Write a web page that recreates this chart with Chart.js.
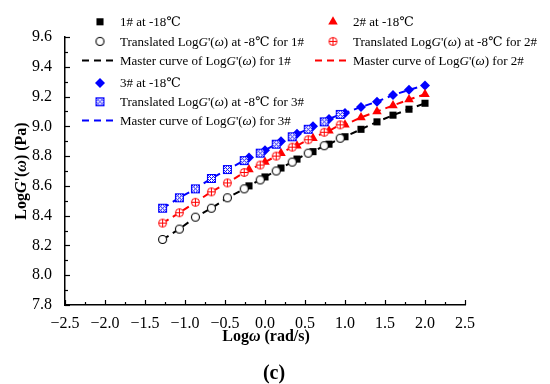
<!DOCTYPE html>
<html>
<head>
<meta charset="utf-8">
<script src="https://cdn.jsdelivr.net/npm/chart.js@4.4.0/dist/chart.umd.min.js"></script>
<style>
html,body{margin:0;padding:0;background:#fff;}
#wrap{width:550px;height:384px;position:relative;}
</style>
</head>
<body>
<div id="wrap"><canvas id="c" width="550" height="384"></canvas></div>
<script>
// ---- data ----
const xTranslated = [-1.28,-1.07,-0.87,-0.67,-0.47,-0.26,-0.06,0.14,0.34,0.54,0.74,0.94];
const xCold = [-0.2,0.0,0.2,0.4,0.6,0.8,1.0,1.2,1.4,1.6,1.8,2.0];
const s1Cold = [8.60,8.66,8.72,8.78,8.83,8.88,8.93,8.98,9.03,9.075,9.115,9.155];
const s1Trans = [8.24,8.31,8.39,8.45,8.52,8.58,8.64,8.70,8.76,8.82,8.87,8.92];
const s2Cold = [8.71,8.76,8.82,8.87,8.92,8.97,9.01,9.06,9.10,9.14,9.18,9.215];
const s2Trans = [8.35,8.42,8.49,8.56,8.62,8.69,8.74,8.80,8.86,8.91,8.96,9.01];
const s3Cold = [8.79,8.84,8.90,8.95,9.00,9.05,9.09,9.13,9.165,9.21,9.245,9.275];
const s3Trans = [8.45,8.52,8.58,8.65,8.71,8.77,8.82,8.88,8.93,8.98,9.03,9.08];
const xTickMin = -2.5, xTickMax = 2.5, xStep = 0.5;
const yTickMin = 7.8, yTickMax = 9.6, yStep = 0.2;

const BLACK = '#000000', RED = '#ff0000', BLUE = '#0000ff';
const SERIF = '"Liberation Serif", "DejaVu Serif", serif';

function pts(xs, ys){ return xs.map((x,i)=>({x:x, y:ys[i]})); }
function merged(xa, ya, xb, yb){
  return pts(xa, ya).concat(pts(xb, yb)).sort((a,b)=>a.x-b.x);
}

// custom marker images
function makeCirclePlus(color){
  const c = document.createElement('canvas'); c.width = 11; c.height = 11;
  const g = c.getContext('2d');
  g.fillStyle = '#fff'; g.strokeStyle = color; g.lineWidth = 1;
  g.beginPath(); g.arc(5.5,5.5,4,0,Math.PI*2); g.fill(); g.stroke();
  g.beginPath(); g.moveTo(1.5,5.5); g.lineTo(9.5,5.5); g.moveTo(5.5,1.5); g.lineTo(5.5,9.5); g.stroke();
  return c;
}
function makeHatchSquare(color){
  const c = document.createElement('canvas'); c.width = 11; c.height = 11;
  const g = c.getContext('2d');
  g.fillStyle = '#fff'; g.fillRect(1.5,1.5,8,8);
  g.strokeStyle = color; g.lineWidth = 1;
  g.strokeRect(1.5,1.5,8,8);
  g.beginPath();
  g.moveTo(1.5,1.5); g.lineTo(9.5,9.5); g.moveTo(9.5,1.5); g.lineTo(1.5,9.5);
  g.moveTo(1.5,5.5); g.lineTo(5.5,1.5); g.moveTo(5.5,9.5); g.lineTo(9.5,5.5);
  g.moveTo(1.5,5.5); g.lineTo(5.5,9.5); g.moveTo(5.5,1.5); g.lineTo(9.5,5.5);
  g.stroke();
  return c;
}
function makeOpenCircle(color){
  const c = document.createElement('canvas'); c.width = 11; c.height = 11;
  const g = c.getContext('2d');
  g.fillStyle = '#fff'; g.strokeStyle = color; g.lineWidth = 1.1;
  g.beginPath(); g.arc(5.5,5.5,4,0,Math.PI*2); g.fill(); g.stroke();
  return c;
}
const imgCircle = makeOpenCircle(BLACK);
const imgCirclePlus = makeCirclePlus(RED);
const imgHatch = makeHatchSquare(BLUE);

const datasets = [
  // master curves (dashed)
  {label:'Master curve of LogG\'(ω) for 1#', data: merged(xTranslated,s1Trans,xCold,s1Cold), showLine:true, borderColor:BLACK, borderWidth:2, borderDash:[7,5], pointRadius:0, order:5},
  {label:'Master curve of LogG\'(ω) for 2#', data: merged(xTranslated,s2Trans,xCold,s2Cold), showLine:true, borderColor:RED, borderWidth:2, borderDash:[7,5], pointRadius:0, order:5},
  {label:'Master curve of LogG\'(ω) for 3#', data: merged(xTranslated,s3Trans,xCold,s3Cold), showLine:true, borderColor:BLUE, borderWidth:2, borderDash:[7,5], pointRadius:0, order:5},
  // -18 C data
  {label:'1# at -18℃', data: pts(xCold,s1Cold), pointStyle:'rect', pointRadius:5, backgroundColor:BLACK, borderColor:BLACK, borderWidth:0, order:3},
  {label:'2# at -18℃', data: pts(xCold,s2Cold), pointStyle:'triangle', pointRadius:5.5, backgroundColor:RED, borderColor:RED, borderWidth:0, order:3},
  {label:'3# at -18℃', data: pts(xCold,s3Cold), pointStyle:'rectRot', pointRadius:5, backgroundColor:BLUE, borderColor:BLUE, borderWidth:0, order:3},
  // translated -8 C data
  {label:'Translated 1#', data: pts(xTranslated,s1Trans), pointStyle:imgCircle, pointRadius:5, order:1},
  {label:'Translated 2#', data: pts(xTranslated,s2Trans), pointStyle:imgCirclePlus, pointRadius:5, order:1},
  {label:'Translated 3#', data: pts(xTranslated,s3Trans), pointStyle:imgHatch, pointRadius:5, order:1}
];

function fmt(v){ return Number(v).toFixed(1).replace('-', '\u2212'); }

// draws a sequence of [text, style] segments
function drawRich(ctx, segs, x, y, size, bold, align){
  const fonts = segs.map(s => (s[1]==='i' ? 'italic ' : '') + (bold ? 'bold ' : '') + size + 'px ' + SERIF);
  let total = 0;
  segs.forEach((s,i)=>{ ctx.font = fonts[i]; total += ctx.measureText(s[0]).width; });
  let cx = align==='center' ? x - total/2 : x;
  segs.forEach((s,i)=>{ ctx.font = fonts[i]; ctx.textAlign='left'; ctx.fillText(s[0], cx, y); cx += ctx.measureText(s[0]).width; });
}

const decor = {
  id:'decor',
  afterDraw(chart){
    const ctx = chart.ctx, xs = chart.scales.x, ys = chart.scales.y;
    const a = chart.chartArea;
    ctx.save();
    ctx.strokeStyle = '#000'; ctx.lineWidth = 1.2;
    // inward ticks x
    for (let i=0;i<=20;i++){
      const v = xTickMin + i*xStep/2;
      const px = Math.round(xs.getPixelForValue(v))+0.5;
      const len = (i%2===0) ? 5 : 3;
      ctx.beginPath(); ctx.moveTo(px, a.bottom); ctx.lineTo(px, a.bottom-len); ctx.stroke();
    }
    // inward ticks y
    for (let i=0;i<=18;i++){
      const v = yTickMin + i*yStep/2;
      const py = Math.round(ys.getPixelForValue(v))+0.5;
      const len = (i%2===0) ? 5 : 3;
      ctx.beginPath(); ctx.moveTo(a.left, py); ctx.lineTo(a.left+len, py); ctx.stroke();
    }
    ctx.fillStyle = '#000'; ctx.textBaseline = 'middle';
    // axis titles
    drawRich(ctx, [['Log',''],['ω','i'],[' (rad/s)','']], 266, 337, 16, true, 'center');
    ctx.save();
    ctx.translate(22, 171); ctx.rotate(-Math.PI/2);
    drawRich(ctx, [['Log',''],['G','i'],['\'(',''],['ω','i'],[') (Pa)','']], 0, 0, 16, true, 'center');
    ctx.restore();
    drawRich(ctx, [['(c)','']], 274, 374, 20, true, 'center');

    // legend
    const rows = [21.8, 41.4, 60.4, 83, 101.8, 120.4];
    const leg = [
      {col:0,row:0,type:'pt',ds:3,text:[['1# at -18℃','']]},
      {col:0,row:1,type:'pt',ds:6,text:[['Translated Log',''],['G','i'],['\'(',''],['ω','i'],[') at -8℃ for 1#','']]},
      {col:0,row:2,type:'ln',ds:0,text:[['Master curve of Log',''],['G','i'],['\'(',''],['ω','i'],[') for 1#','']]},
      {col:1,row:0,type:'pt',ds:4,text:[['2# at -18℃','']]},
      {col:1,row:1,type:'pt',ds:7,text:[['Translated Log',''],['G','i'],['\'(',''],['ω','i'],[') at -8℃ for 2#','']]},
      {col:1,row:2,type:'ln',ds:1,text:[['Master curve of Log',''],['G','i'],['\'(',''],['ω','i'],[') for 2#','']]},
      {col:0,row:3,type:'pt',ds:5,text:[['3# at -18℃','']]},
      {col:0,row:4,type:'pt',ds:8,text:[['Translated Log',''],['G','i'],['\'(',''],['ω','i'],[') at -8℃ for 3#','']]},
      {col:0,row:5,type:'ln',ds:2,text:[['Master curve of Log',''],['G','i'],['\'(',''],['ω','i'],[') for 3#','']]}
    ];
    const cols = [{mx:100, l0:82, l1:116, tx:120},{mx:333, l0:315, l1:348, tx:353}];
    leg.forEach(e=>{
      const c = cols[e.col], y = rows[e.row];
      const d = chart.data.datasets[e.ds];
      if (e.type==='ln'){
        ctx.save(); ctx.strokeStyle = d.borderColor; ctx.lineWidth = 2; ctx.setLineDash([7,5]);
        ctx.beginPath(); ctx.moveTo(c.l0, y); ctx.lineTo(c.l1, y); ctx.stroke(); ctx.restore();
      } else {
        const opts = {pointStyle:d.pointStyle, radius:d.pointRadius, rotation:0, borderWidth:d.borderWidth||0};
        ctx.save(); ctx.fillStyle = d.backgroundColor || '#fff'; ctx.strokeStyle = d.borderColor || '#000';
        Chart.helpers.drawPoint(ctx, opts, c.mx, y);
        ctx.restore();
      }
      ctx.fillStyle = '#000';
      drawRich(ctx, e.text, c.tx, y+1, 13, false, 'left');
    });
    ctx.restore();
  }
};

new Chart(document.getElementById('c'), {
  type:'scatter',
  data:{datasets:datasets},
  options:{
    responsive:false, animation:false, devicePixelRatio:1,
    layout:{padding:{left:0, top:37, right:85, bottom:0}},
    plugins:{legend:{display:false}, tooltip:{enabled:false}},
    scales:{
      x:{type:'linear', min:xTickMin, max:xTickMax,
         ticks:{stepSize:xStep, callback:v=>fmt(v), color:'#000', font:{family:SERIF, size:16}, padding:1, maxRotation:0, autoSkip:false},
         grid:{display:false}, border:{display:true, color:'#000', width:1.5},
         afterFit:s=>{s.height = 79;}},
      y:{type:'linear', min:yTickMin, max:yTickMax,
         ticks:{stepSize:yStep, callback:v=>fmt(v), color:'#000', font:{family:SERIF, size:16}, padding:5, autoSkip:false},
         grid:{display:false}, border:{display:true, color:'#000', width:1.5},
         afterFit:s=>{s.width = 65;}}
    }
  },
  plugins:[decor]
});
</script>
</body>
</html>
